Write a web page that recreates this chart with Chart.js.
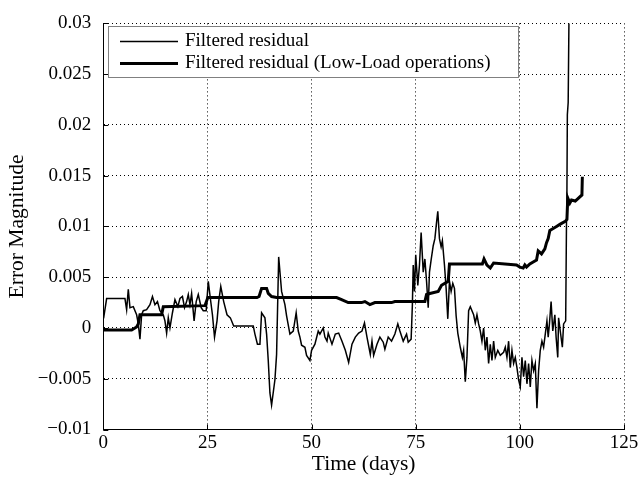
<!DOCTYPE html>
<html>
<head>
<meta charset="utf-8">
<script src="https://cdn.jsdelivr.net/npm/chart.js@4.4.0/dist/chart.umd.min.js"></script>
<style>
  html, body { margin: 0; padding: 0; background: #fff; }
  #wrap { width: 641px; height: 481px; }
</style>
</head>
<body>
<div id="wrap"><canvas id="residualChart" width="641" height="481"></canvas></div>
<script>
// series: Filtered residual (thin)
const thinDays = [
  0, 0.2, 0.8, 5.2, 5.6, 6.0, 6.4, 7.2, 8.0, 8.4, 8.8, 9.2, 9.6, 10.4, 11.2, 11.8, 12.4, 13.0, 13.6, 14.4,
  14.8, 15.2, 15.6, 16.0, 16.6, 17.2, 17.9, 18.4, 19.0, 19.5, 20.0, 20.4, 20.8, 21.2, 21.8, 22.3, 22.8, 23.5, 24.0, 24.7,
  25.2, 25.7, 26.2, 26.7, 27.3, 27.7, 28.2, 28.9, 29.7, 30.5, 31.3, 36.0, 36.4, 37.0, 37.6, 38.0, 38.8, 39.2, 39.6, 40.0,
  40.4, 41.2, 41.6, 42.1, 42.8, 43.6, 44.0, 44.8, 45.6, 46.3, 46.8, 47.2, 47.6, 48.4, 48.8, 49.6, 50.0, 50.8, 51.6, 52.0,
  52.8, 53.2, 53.7, 54.0, 54.9, 55.7, 56.5, 57.3, 58.1, 58.9, 59.7, 60.5, 61.3, 62.1, 62.7, 63.3, 64.1, 64.5, 64.9, 65.7,
  66.4, 67.2, 67.6, 68.4, 69.2, 70.0, 70.7, 71.2, 72.0, 72.8, 73.2, 73.9, 74.2, 74.4, 74.7, 75.0, 75.5, 75.9, 76.3, 76.8,
  77.2, 77.6, 78.0, 78.3, 78.7, 79.2, 79.6, 80.0, 80.3, 80.7, 81.1, 81.4, 81.9, 82.3, 82.7, 83.1, 83.5, 83.9, 84.3, 84.7,
  85.1, 85.7, 86.2, 86.5, 86.9, 87.3, 87.7, 88.1, 88.9, 89.3, 89.7, 90.1, 90.5, 90.9, 91.3, 91.7, 92.1, 92.5, 92.9, 93.3,
  93.7, 94.1, 94.7, 95.3, 96.1, 96.5, 96.9, 97.3, 97.7, 98.1, 98.5, 98.9, 99.3, 99.7, 100.1, 100.5, 100.9, 101.3, 101.7, 102.1,
  102.5, 102.9, 103.3, 103.7, 104.1, 104.5, 104.9, 105.3, 105.7, 106.1, 106.5, 106.8, 107.1, 107.5, 107.9, 108.4, 108.7, 109.1, 109.3, 109.7,
  110.2, 110.5, 111.0, 111.2, 111.3, 111.4, 111.6, 111.8
];
const thinValues = [
  0.0017, 0.0013, 0.0029, 0.0029, 0.0018, 0.0038, 0.0020, 0.0021, 0.0013, 0.0004, -0.0011, 0.0013, 0.0017, 0.0018, 0.0023, 0.0031, 0.0023, 0.0026, 0.0017, 0.0013,
  0.0007, -0.0005, 0.0010, 0.0000, 0.0015, 0.0028, 0.0021, 0.0029, 0.0031, 0.0020, 0.0026, 0.0033, 0.0023, 0.0034, 0.0007, 0.0026, 0.0033, 0.0020, 0.0017, 0.0017,
  0.0046, 0.0029, 0.0013, -0.0009, 0.0007, 0.0026, 0.0041, 0.0026, 0.0013, 0.0010, 0.0002, 0.0002, -0.0006, -0.0016, -0.0016, 0.0015, 0.0010, -0.0006, -0.0032, -0.0064,
  -0.0076, -0.0051, -0.0026, 0.0070, 0.0036, 0.0023, 0.0012, -0.0006, -0.0003, 0.0015, -0.0003, -0.0009, -0.0017, -0.0019, -0.0027, -0.0032, -0.0022, -0.0016, -0.0003, -0.0006,
  0.0000, -0.0009, -0.0013, -0.0005, -0.0016, -0.0006, -0.0005, -0.0013, -0.0022, -0.0034, -0.0016, -0.0009, -0.0005, -0.0003, 0.0005, -0.0009, -0.0026, -0.0013, -0.0027, -0.0016,
  -0.0009, -0.0014, -0.0021, -0.0009, -0.0013, -0.0006, 0.0004, -0.0003, -0.0013, -0.0006, -0.0014, -0.0011, 0.0023, 0.0062, 0.0036, 0.0072, 0.0042, 0.0062, 0.0094, 0.0055,
  0.0068, 0.0046, 0.0020, 0.0055, 0.0067, 0.0081, 0.0088, 0.0104, 0.0115, 0.0088, 0.0080, 0.0086, 0.0062, 0.0039, 0.0009, 0.0046, 0.0036, 0.0044, 0.0039, 0.0012,
  -0.0005, -0.0019, -0.0029, -0.0022, -0.0053, -0.0029, 0.0017, 0.0021, 0.0013, 0.0005, 0.0013, 0.0004, -0.0003, -0.0013, 0.0000, -0.0022, -0.0009, -0.0035, -0.0016, -0.0032,
  -0.0013, -0.0029, -0.0022, -0.0027, -0.0024, -0.0019, -0.0029, -0.0013, -0.0039, -0.0022, -0.0035, -0.0029, -0.0039, -0.0051, -0.0058, -0.0029, -0.0048, -0.0032, -0.0055, -0.0035,
  -0.0058, -0.0032, -0.0042, -0.0035, -0.0079, -0.0042, -0.0022, -0.0013, -0.0019, -0.0006, 0.0007, -0.0009, 0.0004, 0.0026, -0.0003, 0.0013, -0.0009, -0.0029, 0.0010, -0.0003,
  -0.0019, 0.0004, 0.0007, 0.0107, 0.0136, 0.0210, 0.0222, 0.0310
];

// series: Filtered residual (Low-Load operations) (thick)
const thickDays = [
  0, 6.8, 8.0, 8.4, 8.8, 14.0, 14.4, 24.4, 25.1, 36.9, 37.4, 38.0, 39.2, 39.6, 40.4, 41.6, 56.0, 57.2, 58.8, 62.0,
  62.8, 64.0, 65.2, 69.2, 70.0, 77.2, 77.6, 78.4, 80.4, 81.2, 82.8, 83.1, 91.0, 91.4, 92.1, 92.9, 93.7, 99.2, 100.0, 100.8,
  101.2, 101.6, 102.4, 103.2, 104.0, 104.4, 105.2, 106.0, 106.4, 106.8, 107.2, 108.0, 108.8, 109.6, 110.9, 111.3, 111.5, 112.0, 112.4, 113.3,
  114.9, 115.0
];
const thickValues = [
  -0.0002, -0.0002, 0.0001, 0.0004, 0.0013, 0.0013, 0.0021, 0.0022, 0.0030, 0.0030, 0.0031, 0.0039, 0.0039, 0.0034, 0.0031, 0.0030, 0.0030, 0.0028, 0.0025, 0.0025,
  0.0026, 0.0023, 0.0025, 0.0025, 0.0026, 0.0026, 0.0033, 0.0034, 0.0036, 0.0042, 0.0046, 0.0063, 0.0063, 0.0068, 0.0062, 0.0059, 0.0064, 0.0062, 0.0060, 0.0059,
  0.0062, 0.0060, 0.0063, 0.0065, 0.0067, 0.0076, 0.0073, 0.0078, 0.0084, 0.0088, 0.0096, 0.0098, 0.0100, 0.0102, 0.0105, 0.0107, 0.0128, 0.0123, 0.0126, 0.0125,
  0.0131, 0.0149
];

// ticks
const xTickValues = [0, 25, 50, 75, 100, 125];
const xTickLabels = ['0', '25', '50', '75', '100', '125'];
const yTickValues = [-0.01, -0.005, 0, 0.005, 0.01, 0.015, 0.02, 0.025, 0.03];
const yTickLabels = ['\u22120.01', '\u22120.005', '0', '0.005', '0.01', '0.015', '0.02', '0.025', '0.03'];

const seriesLabels = ['Filtered residual', 'Filtered residual (Low-Load operations)'];

const serif = "'Liberation Serif', 'DejaVu Serif', serif";

const toPoints = (xs, ys) => xs.map((x, i) => ({ x: x, y: ys[i] }));

// inward tick marks on left / bottom axes (matlab style)
const innerTicks = {
  id: 'innerTicks',
  afterDraw(chart) {
    const { ctx, chartArea, scales } = chart;
    ctx.save();
    ctx.strokeStyle = '#000';
    ctx.lineWidth = 1;
    ctx.beginPath();
    yTickValues.forEach(v => {
      const y = Math.round(scales.y.getPixelForValue(v)) + 0.5;
      ctx.moveTo(chartArea.left, y);
      ctx.lineTo(chartArea.left + 5, y);
    });
    xTickValues.forEach(v => {
      const x = Math.round(scales.x.getPixelForValue(v)) + 0.5;
      ctx.moveTo(x, chartArea.bottom);
      ctx.lineTo(x, chartArea.bottom - 5);
    });
    ctx.stroke();
    ctx.restore();
  }
};

// boxed legend in the top-left corner
const boxLegend = {
  id: 'boxLegend',
  afterDraw(chart) {
    const { ctx } = chart;
    const box = { x: 108.5, y: 26.5, w: 410, h: 51 };
    ctx.save();
    ctx.fillStyle = '#fff';
    ctx.fillRect(box.x, box.y, box.w, box.h);
    ctx.strokeStyle = '#808080';
    ctx.lineWidth = 1;
    ctx.strokeRect(box.x, box.y, box.w, box.h);
    ctx.font = "19px " + serif;
    ctx.textBaseline = 'middle';
    ctx.fillStyle = '#000';
    chart.data.datasets.forEach((ds, i) => {
      const y = 41.5 + i * 22;
      ctx.strokeStyle = '#000';
      ctx.lineWidth = ds.borderWidth;
      ctx.beginPath();
      ctx.moveTo(120, y);
      ctx.lineTo(178, y);
      ctx.stroke();
      ctx.fillText(ds.label, 185, y);
    });
    ctx.restore();
  }
};

const residualData = {
  datasets: [
    {
      label: seriesLabels[0],
      data: toPoints(thinDays, thinValues),
      borderColor: '#000',
      borderWidth: 1.5,
      pointRadius: 0,
      tension: 0,
      order: 2
    },
    {
      label: seriesLabels[1],
      data: toPoints(thickDays, thickValues),
      borderColor: '#000',
      borderWidth: 3,
      pointRadius: 0,
      tension: 0,
      order: 1
    }
  ]
};

const residualConfig = {
  type: 'line',
  data: residualData,
  options: {
    responsive: false,
    animation: false,
    devicePixelRatio: 1,
    layout: { padding: { left: 0, right: 17, top: 18, bottom: 0 } },
    scales: {
      x: {
        type: 'linear',
        min: 0,
        max: 125,
        afterBuildTicks: scale => { scale.ticks = xTickValues.map(v => ({ value: v })); },
        afterFit: scale => { scale.height = 51.5; },
        ticks: {
          color: '#000',
          padding: 2,
          maxRotation: 0,
          font: { family: serif, size: 19 },
          callback: (value, index) => xTickLabels[index]
        },
        grid: { color: '#000', lineWidth: 1, drawTicks: false },
        border: { color: '#000', width: 1, dash: [1, 3] },
        title: {
          display: true,
          text: 'Time (days)',
          color: '#000',
          font: { family: serif, size: 21.5 },
          padding: { top: 0, bottom: 4 }
        }
      },
      y: {
        min: -0.01,
        max: 0.03,
        afterBuildTicks: scale => { scale.ticks = yTickValues.map(v => ({ value: v })); },
        afterFit: scale => { scale.width = 103.3; },
        ticks: {
          color: '#000',
          padding: 12,
          font: { family: serif, size: 19 },
          callback: (value, index) => yTickLabels[index]
        },
        grid: { color: '#000', lineWidth: 1, drawTicks: false },
        border: { color: '#000', width: 1, dash: [1, 3] },
        title: {
          display: true,
          text: 'Error Magnitude',
          color: '#000',
          font: { family: serif, size: 21.5 },
          padding: { top: 4, bottom: 0 }
        }
      }
    },
    plugins: {
      legend: { display: false },
      tooltip: { enabled: false }
    }
  },
  plugins: [innerTicks, boxLegend]
};

const residualElement = document.querySelector('#residualChart');
const residualChart = new Chart(residualElement, residualConfig);
</script>
</body>
</html>
